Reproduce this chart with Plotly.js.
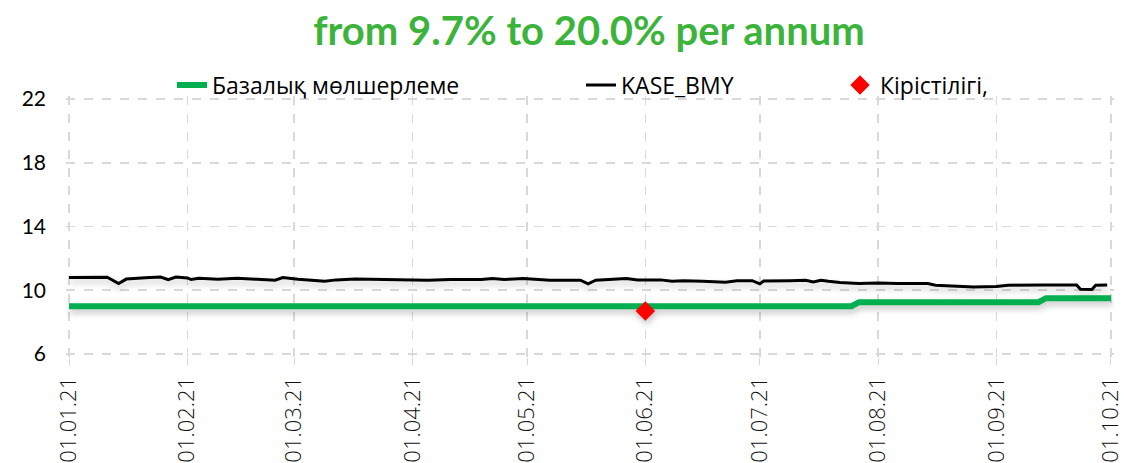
<!DOCTYPE html>
<html>
<head>
<meta charset="utf-8">
<script src="https://cdn.plot.ly/plotly-3.0.1.min.js"></script>
<style>
html,body{margin:0;padding:0;background:#fff;}
#chart{width:1124px;height:463px;}
.scatterlayer .trace{filter:drop-shadow(1px 4px 3px rgba(0,0,0,0.22));}
</style>
</head>
<body>
<div id="chart"></div>
<script>
// ---- data ----
const titleText = "from 9.7% to 20.0% per annum";
const seriesNames = ["Базалық мөлшерлеме", "KASE_BMY", "Кірістілігі,"];

const baseDates = ["2021-01-01","2021-07-25","2021-07-27","2021-09-12","2021-09-14","2021-10-01"];
const baseRate  = [9.0, 9.0, 9.25, 9.25, 9.5, 9.5];

const kaseDates = [
 "2021-01-01","2021-01-07","2021-01-11","2021-01-14","2021-01-16","2021-01-21","2021-01-25","2021-01-27","2021-01-29",
 "2021-02-01","2021-02-02","2021-02-04","2021-02-09","2021-02-14","2021-02-16","2021-02-22","2021-02-24","2021-02-26",
 "2021-03-02","2021-03-09","2021-03-12","2021-03-17","2021-03-25",
 "2021-04-01","2021-04-05","2021-04-11","2021-04-19","2021-04-22","2021-04-25","2021-04-30",
 "2021-05-07","2021-05-15","2021-05-17","2021-05-19","2021-05-23","2021-05-27","2021-05-30",
 "2021-06-05","2021-06-08","2021-06-11","2021-06-16","2021-06-22","2021-06-25","2021-06-29",
 "2021-07-01","2021-07-02","2021-07-09","2021-07-13","2021-07-15","2021-07-17","2021-07-19","2021-07-22","2021-07-27",
 "2021-08-01","2021-08-06","2021-08-14","2021-08-16","2021-08-22","2021-08-26",
 "2021-09-01","2021-09-04","2021-09-13","2021-09-18","2021-09-22","2021-09-23","2021-09-26","2021-09-27","2021-09-30"
];
const kaseValues = [
 10.80,10.79,10.82,10.42,10.70,10.78,10.83,10.66,10.83,
 10.77,10.67,10.75,10.69,10.75,10.73,10.67,10.63,10.80,
 10.69,10.56,10.65,10.71,10.67,
 10.67,10.63,10.67,10.67,10.73,10.67,10.73,
 10.63,10.63,10.40,10.63,10.69,10.73,10.65,
 10.65,10.56,10.60,10.56,10.50,10.60,10.60,
 10.40,10.58,10.60,10.63,10.52,10.63,10.56,10.48,10.42,
 10.46,10.42,10.42,10.31,10.27,10.21,
 10.23,10.31,10.33,10.31,10.33,10.06,10.04,10.31,10.33
];

const yieldDates  = ["2021-06-01"];
const yieldValues = [8.7];

const tickDates  = ["2021-01-01","2021-02-01","2021-03-01","2021-04-01","2021-05-01","2021-06-01","2021-07-01","2021-08-01","2021-09-01","2021-10-01"];
const tickLabels = ["01.01.21","01.02.21","01.03.21","01.04.21","01.05.21","01.06.21","01.07.21","01.08.21","01.09.21","01.10.21"];
const yTicks = [6,10,14,18,22];

// ---- chart ----
const FONT = "Lato, 'Open Sans', sans-serif";
const LFONT = "'Open Sans', Lato, sans-serif";
const traces = [
  {x: baseDates, y: baseRate, name: seriesNames[0], type: "scatter", mode: "lines",
   line: {color: "#00B050", width: 6}, legend: "legend"},
  {x: kaseDates, y: kaseValues, name: seriesNames[1], type: "scatter", mode: "lines",
   line: {color: "#000000", width: 3}, legend: "legend2"},
  {x: yieldDates, y: yieldValues, name: seriesNames[2], type: "scatter", mode: "markers",
   marker: {symbol: "diamond", color: "#FF0000", size: 15}, legend: "legend3"}
];

const legendBase = {orientation: "h", yref: "container", y: 1 - 85/463, yanchor: "middle",
  xref: "container", xanchor: "left", font: {family: LFONT, size: 23, color: "#000"},
  bgcolor: "rgba(0,0,0,0)", borderwidth: 0};

const layout = {
  width: 1124, height: 463,
  margin: {l: 66, r: 10, t: 96, b: 106, autoexpand: false},
  paper_bgcolor: "#fff", plot_bgcolor: "#fff",
  font: {family: FONT, color: "#000"},
  title: {text: "<b>" + titleText + "</b>", font: {family: FONT, size: 40, color: "#3CB43C"},
          x: 0.524, xanchor: "center", yref: "container", y: 1 - 31/463, yanchor: "middle"},
  showlegend: true,
  legend:  Object.assign({}, legendBase, {x: 172/1124}),
  legend2: Object.assign({}, legendBase, {x: 581/1124}),
  legend3: Object.assign({}, legendBase, {x: 840/1124}),
  xaxis: {type: "date", range: ["2020-12-31 05:00","2021-10-01 19:00"], tickmode: "array",
          tickvals: tickDates, ticktext: tickLabels, tickangle: -90,
          tickfont: {family: LFONT, size: 22, color: "#111", weight: 300},
          ticklabeloverflow: "allow",
          showgrid: true, gridcolor: "#D9D9D9", gridwidth: 1.5, griddash: "dash",
          zeroline: false, showline: false, ticks: "outside", ticklen: 7, tickcolor: "#D9D9D9",
          ticklabelstandoff: 3},
  yaxis: {range: [5.81, 22.19], tickmode: "array", tickvals: yTicks, ticktext: yTicks.map(String),
          tickfont: {family: FONT, size: 21, color: "#000"},
          showgrid: true, gridcolor: "#D9D9D9", gridwidth: 1.5, griddash: "dash",
          zeroline: false, showline: false, ticks: "", ticklabelstandoff: 19}
};

Plotly.newPlot("chart", traces, layout, {displayModeBar: false, staticPlot: true});
</script>
</body>
</html>
